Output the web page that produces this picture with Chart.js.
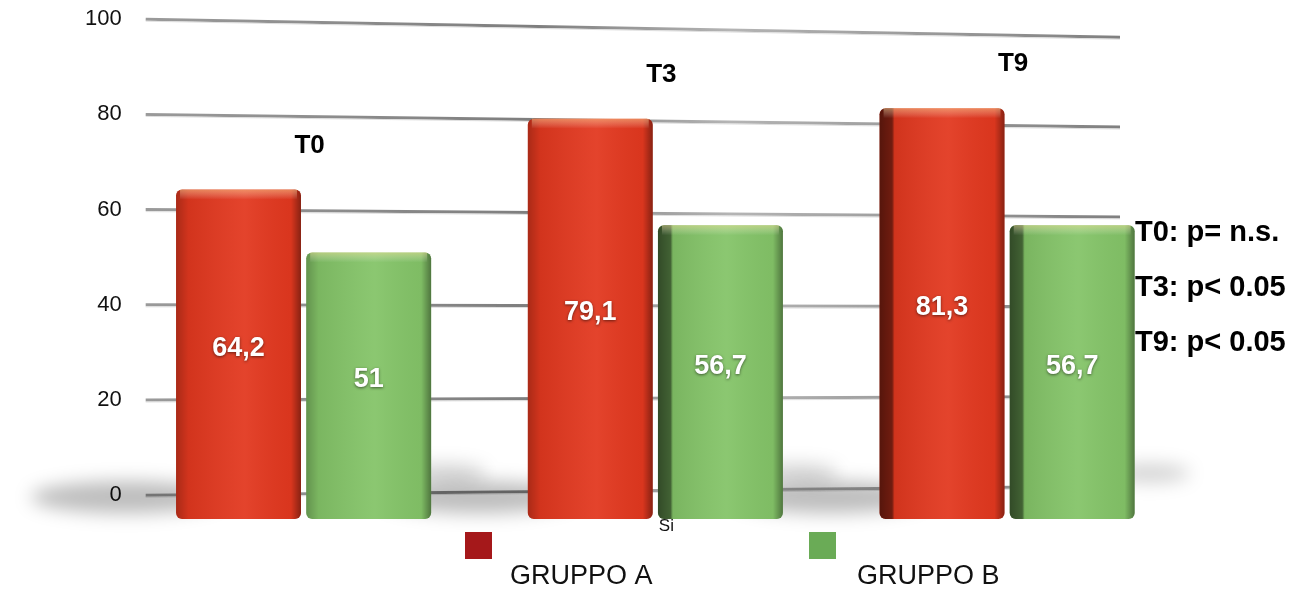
<!DOCTYPE html>
<html>
<head>
<meta charset="utf-8">
<script src="https://cdn.jsdelivr.net/npm/chart.js@4.4.0/dist/chart.umd.min.js"></script>
<style>
html, body { margin: 0; padding: 0; background: #fff; }
#wrap { width: 1294px; height: 591px; }
</style>
</head>
<body>
<div id="wrap"><canvas id="myChart"></canvas></div>
<script>
//time points (one group of bars each)
const categories = ["T0", "T3", "T9"];

//series values
const gruppoA = [64.2, 79.1, 81.3];
const gruppoB = [51, 56.7, 56.7];
const seriesNames = ["GRUPPO A", "GRUPPO B"];

//y axis ticks
const yTicks = [0, 20, 40, 60, 80, 100];

//category axis label
const xLabel = "Si";

//significance notes on the right
const pValues = ["T0: p= n.s.", "T3: p< 0.05", "T9: p< 0.05"];

const font = "'Liberation Sans', Arial, Helvetica, sans-serif";
const redMain = "#e2381f";
const greenMain = "#84c468";
const legendColors = ["#a5181a", "#6aab56"];

//gridlines drawn a bit tilted, like the 3d original, plus floor shadows
const gridPlugin = {
  id: "grid3d",
  beforeDatasetsDraw(chart) {
    const c = chart.ctx;
    const y = chart.scales.y;
    const area = chart.chartArea;
    const x0 = area.left + 18;
    const x1 = area.right - 63;
    c.save();
    yTicks.forEach((v) => {
      const py = y.getPixelForValue(v);
      const tilt = (v - 33) * 0.27;
      const g = c.createLinearGradient(x0, 0, x1, 0);
      g.addColorStop(0, "#9a9a9a");
      g.addColorStop(0.4, "#7e7e7e");
      g.addColorStop(0.6, "#b4b4b4");
      g.addColorStop(1, "#808080");
      c.strokeStyle = g;
      c.lineWidth = 3;
      c.beginPath();
      c.moveTo(x0, py);
      c.lineTo(x1, py + tilt);
      c.stroke();
      c.strokeStyle = "rgba(220,220,220,0.9)";
      c.lineWidth = 1;
      c.beginPath();
      c.moveTo(x0, py + 2);
      c.lineTo(x1, py + tilt + 2);
      c.stroke();
    });

    //soft shadows on the floor
    const zero = y.getPixelForValue(0);
    const redBars = chart.getDatasetMeta(0).data;
    const greenBars = chart.getDatasetMeta(1).data;
    c.filter = "blur(9px)";
    c.fillStyle = "rgba(0,0,0,0.26)";
    redBars.forEach((bar) => {
      const p = bar.getProps(["x", "width"], true);
      const l = p.x - p.width / 2;
      c.beginPath();
      c.ellipse(l - 50, zero + 2, 95, 16, 0, 0, Math.PI * 2);
      c.fill();
    });
    c.fillStyle = "rgba(0,0,0,0.18)";
    greenBars.forEach((bar) => {
      const p = bar.getProps(["x", "width"], true);
      const r = p.x + p.width / 2;
      c.beginPath();
      c.ellipse(r + 15, zero - 22, 40, 9, 0, 0, Math.PI * 2);
      c.fill();
    });
    c.restore();
  }
};

//shading + labels on top of bars
const labelPlugin = {
  id: "labels3d",
  afterDatasetsDraw(chart) {
    const c = chart.ctx;
    const y = chart.scales.y;
    const x = chart.scales.x;
    const zero = y.getPixelForValue(0);

    chart.data.datasets.forEach((ds, di) => {
      chart.getDatasetMeta(di).data.forEach((bar, i) => {
        const p = bar.getProps(["x", "y", "base", "width"], true);
        const l = p.x - p.width / 2;
        //side shading, the further right the more of the side face shows
        const g = c.createLinearGradient(l, 0, l + p.width, 0);
        if (i === 2 || (di === 1 && i === 1)) {
          g.addColorStop(0, "rgba(0,0,0,0.62)");
          g.addColorStop(0.1, "rgba(0,0,0,0.5)");
          g.addColorStop(0.12, "rgba(0,0,0,0.08)");
        } else {
          g.addColorStop(0, "rgba(0,0,0,0.25)");
          g.addColorStop(0.1, "rgba(0,0,0,0.07)");
        }
        g.addColorStop(0.55, "rgba(255,255,255,0.06)");
        g.addColorStop(0.92, "rgba(0,0,0,0.04)");
        g.addColorStop(1, "rgba(0,0,0,0.4)");
        c.save();
        c.fillStyle = g;
        c.beginPath();
        c.roundRect(l, p.y, p.width, p.base - p.y, 6);
        c.fill();
        //top highlight
        const t = c.createLinearGradient(0, p.y, 0, p.y + 10);
        t.addColorStop(0, "rgba(255,230,160,0.45)");
        t.addColorStop(1, "rgba(255,255,255,0)");
        c.fillStyle = t;
        c.fillRect(l + 4, p.y, p.width - 8, 10);
        c.restore();

        //value label in the middle of the bar
        const val = ds.data[i];
        c.save();
        c.font = "bold 27px " + font;
        c.fillStyle = "#fff";
        c.textAlign = "center";
        c.textBaseline = "middle";
        c.shadowColor = "rgba(0,0,0,0.55)";
        c.shadowBlur = 3;
        c.shadowOffsetY = 1;
        c.fillText(String(val).replace(".", ","), p.x, (zero + p.y) / 2 + 6);
        c.restore();
      });
    });

    //time point labels above each group
    c.save();
    c.font = "bold 26px " + font;
    c.fillStyle = "#000";
    c.textAlign = "center";
    c.textBaseline = "middle";
    categories.forEach((cat, i) => {
      const top = y.getPixelForValue(Math.max(gruppoA[i], gruppoB[i]));
      c.fillText(cat, x.getPixelForValue(i) + 6, top - 44);
    });
    c.restore();
  },
  afterDraw(chart) {
    const c = chart.ctx;
    const area = chart.chartArea;
    const mid = chart.width / 2;

    //p values
    c.save();
    c.font = "bold 29px " + font;
    c.fillStyle = "#000";
    c.textBaseline = "middle";
    pValues.forEach((t, i) => {
      c.fillText(t, area.right - 48, 233 + i * 55);
    });

    //x axis label
    c.font = "17px " + font;
    c.textAlign = "center";
    c.fillStyle = "#111";
    c.fillText(xLabel, chart.scales.x.getPixelForValue(1) + 11, area.bottom + 7);

    //legend: box, name below to the right
    c.textAlign = "left";
    c.font = "27px " + font;
    const boxX = [mid - 182, mid + 162];
    const textX = [mid - 137, mid + 210];
    seriesNames.forEach((n, i) => {
      c.fillStyle = legendColors[i];
      c.fillRect(boxX[i], area.bottom + 13, 27, 27);
      c.fillStyle = "#111";
      c.fillText(n, textX[i], area.bottom + 58);
    });
    c.restore();
  }
};

const ctx = document.getElementById("myChart").getContext("2d");

const data = {
  labels: categories,
  datasets: [
    {
      label: seriesNames[0],
      data: gruppoA,
      backgroundColor: redMain,
      base: -5,
      borderRadius: 6,
      borderSkipped: false,
      categoryPercentage: 0.74,
      barPercentage: 0.96
    },
    {
      label: seriesNames[1],
      data: gruppoB,
      backgroundColor: greenMain,
      base: -5,
      borderRadius: 6,
      borderSkipped: false,
      categoryPercentage: 0.74,
      barPercentage: 0.96
    }
  ]
};

const myChart = new Chart(ctx, {
  type: "bar",
  data: data,
  plugins: [gridPlugin, labelPlugin],
  options: {
    responsive: true,
    maintainAspectRatio: false,
    animation: false,
    layout: {
      padding: { left: 79, right: 111, top: 15, bottom: 72 }
    },
    plugins: {
      legend: { display: false },
      tooltip: { enabled: false }
    },
    scales: {
      x: {
        ticks: { display: false },
        grid: { display: false, drawTicks: false },
        border: { display: false }
      },
      y: {
        min: -5,
        max: 100,
        afterBuildTicks: (scale) => {
          scale.ticks = yTicks.map((v) => ({ value: v }));
        },
        grid: { display: false, drawTicks: false },
        border: { display: false },
        ticks: {
          color: "#111",
          padding: 6,
          font: { family: font, size: 22 }
        }
      }
    }
  }
});
</script>
</body>
</html>
